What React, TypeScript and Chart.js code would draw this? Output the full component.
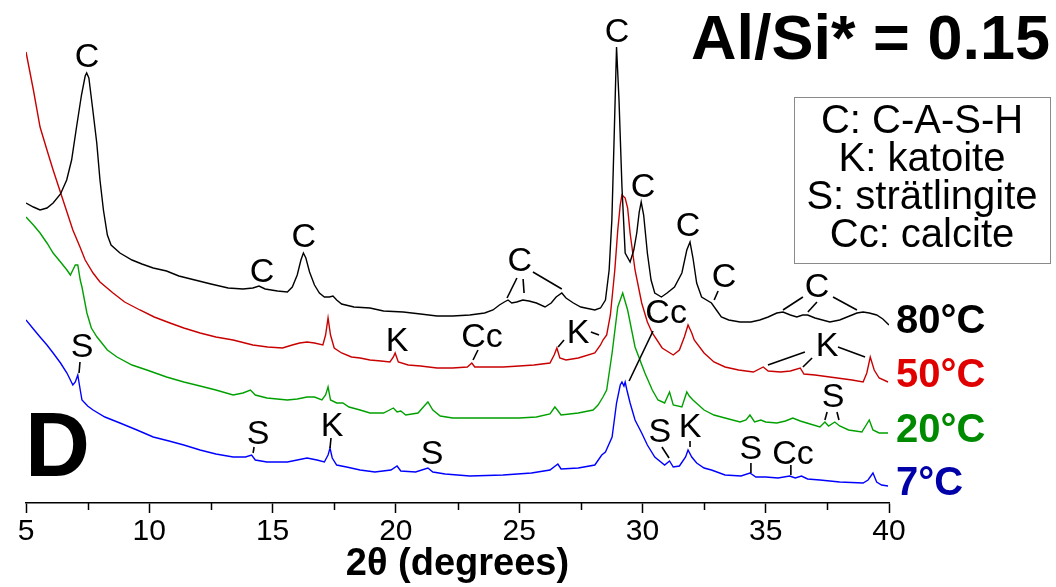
import React, { useEffect, useRef } from "react";
import { Chart, registerables } from "chart.js";

Chart.register(...registerables);

const FONT = '"Liberation Sans", Arial, sans-serif';

// 2θ (degrees) and intensity (a.u., stacked offsets included) for each curing temperature
const theta80 = [5.0, 5.3, 5.57, 5.85, 6.1, 6.4, 6.65, 6.85, 7.05, 7.25, 7.4, 7.46, 7.55, 7.7, 7.87, 8.0, 8.14, 8.3, 8.45, 8.81, 9.3, 9.7, 10.16, 10.7, 11.2, 11.85, 12.5, 13.2, 13.8, 14.2, 14.45, 14.7, 15.2, 15.6, 15.8, 16.0, 16.15, 16.25, 16.35, 16.5, 16.7, 16.9, 17.1, 17.3, 17.45, 17.6, 17.8, 18.3, 18.95, 19.5, 20.3, 21.0, 21.67, 22.3, 23.0, 23.6, 23.94, 24.2, 24.4, 24.55, 24.7, 24.9, 25.15, 25.4, 25.7, 26.05, 26.3, 26.5, 26.73, 26.9, 27.2, 27.5, 28.07, 28.3, 28.5, 28.65, 28.76, 28.85, 28.95, 29.05, 29.17, 29.3, 29.5, 29.65, 29.77, 29.87, 29.95, 30.05, 30.2, 30.35, 30.5, 30.77, 31.0, 31.3, 31.6, 31.8, 31.93, 32.05, 32.2, 32.4, 32.8, 33.0, 33.2, 33.5, 33.96, 34.4, 34.76, 35.1, 35.45, 35.7, 36.0, 36.26, 36.5, 36.7, 37.0, 37.6, 38.0, 38.3, 38.7, 38.95, 39.2, 39.5, 39.75, 40.0];
const int80 = [300, 296, 293, 295, 300, 309, 323, 343, 376, 408, 427, 430, 425, 395, 360, 323, 293, 268, 258, 250, 243, 239, 235, 232, 227, 223, 219, 215, 214, 215, 217, 214, 212, 211, 216, 228, 243, 250, 245, 231, 218, 210, 206, 206, 207, 203, 199, 196, 195, 192, 191, 189, 187, 187, 188, 190, 193, 198, 201, 203, 200, 201, 203, 202, 200, 196, 200, 206, 210, 205, 200, 196, 193, 195, 203, 233, 283, 363, 456, 403, 316, 250, 241, 253, 270, 291, 301, 288, 250, 223, 210, 206, 210, 216, 230, 253, 261, 245, 220, 206, 200, 193, 186, 183, 181, 181, 183, 186, 190, 191, 188, 186, 188, 188, 185, 181, 183, 186, 190, 191, 190, 188, 184, 178];

const theta50 = [5.0, 5.3, 5.57, 5.85, 6.1, 6.5, 6.9, 7.19, 7.4, 7.72, 8.0, 8.53, 9.0, 9.62, 10.2, 10.84, 11.4, 12.06, 12.7, 13.4, 14.2, 14.8, 15.4, 15.8, 16.1, 16.4, 16.7, 17.04, 17.15, 17.25, 17.35, 17.5, 17.8, 18.2, 18.55, 18.95, 19.4, 19.76, 19.9, 19.97, 20.1, 20.5, 21.0, 21.67, 22.3, 22.9, 23.08, 23.2, 23.7, 24.35, 25.0, 25.6, 26.25, 26.42, 26.53, 26.65, 26.9, 27.4, 28.07, 28.3, 28.4, 28.55, 28.7, 28.88, 29.0, 29.1, 29.17, 29.3, 29.4, 29.5, 29.7, 29.97, 30.2, 30.4, 30.8, 31.25, 31.5, 31.7, 31.85, 32.0, 32.1, 32.5, 32.9, 33.35, 33.9, 34.5, 34.9, 35.1, 35.6, 36.0, 36.4, 36.55, 37.0, 37.9, 38.5, 38.95, 39.1, 39.24, 39.4, 39.6, 39.96];
const int50 = [451, 413, 376, 353, 333, 303, 273, 256, 243, 230, 221, 210, 201, 193, 186, 180, 175, 170, 166, 163, 158, 156, 155, 158, 160, 161, 160, 158, 168, 185, 168, 155, 150, 146, 145, 143, 142, 141, 146, 150, 141, 138, 137, 135, 135, 136, 140, 136, 136, 136, 137, 138, 140, 148, 155, 145, 143, 145, 150, 158, 163, 168, 188, 233, 273, 298, 308, 305, 295, 270, 233, 200, 181, 170, 155, 148, 153, 166, 178, 170, 163, 150, 141, 136, 133, 131, 136, 132, 131, 132, 135, 129, 128, 125, 123, 121, 130, 146, 133, 125, 121];

const theta20 = [5.0, 5.3, 5.57, 5.85, 6.1, 6.4, 6.66, 6.8, 6.9, 7.0, 7.1, 7.2, 7.27, 7.47, 7.65, 7.88, 8.3, 8.69, 9.3, 9.9, 10.7, 11.4, 12.06, 12.7, 13.4, 13.8, 14.1, 14.3, 14.77, 15.6, 16.0, 16.4, 16.7, 17.0, 17.15, 17.25, 17.35, 17.6, 17.85, 18.1, 18.55, 18.95, 19.5, 19.9, 20.05, 20.2, 20.4, 20.9, 21.15, 21.3, 21.5, 21.8, 22.3, 23.0, 24.35, 25.0, 25.7, 26.25, 26.45, 26.55, 26.7, 27.4, 28.0, 28.2, 28.4, 28.55, 28.77, 29.0, 29.2, 29.4, 29.7, 30.1, 30.4, 30.63, 30.9, 31.1, 31.25, 31.6, 31.8, 31.9, 32.05, 32.5, 32.9, 33.35, 33.96, 34.2, 34.36, 34.55, 34.8, 35.0, 35.45, 35.8, 36.1, 36.4, 36.8, 37.2, 37.4, 37.55, 37.8, 38.0, 38.36, 38.9, 39.2, 39.35, 39.6, 39.96];
const int20 = [286, 278, 270, 260, 250, 241, 233, 228, 233, 238, 238, 223, 216, 190, 175, 166, 153, 146, 138, 133, 126, 121, 117, 113, 108, 110, 113, 108, 105, 103, 104, 106, 106, 103, 108, 116, 103, 100, 100, 96, 93, 90, 90, 95, 91, 92, 88, 90, 97, 101, 93, 87, 85, 85, 85, 85, 86, 89, 96, 93, 88, 90, 93, 98, 106, 113, 150, 196, 210, 193, 156, 130, 113, 103, 100, 111, 98, 96, 111, 107, 103, 93, 88, 85, 81, 83, 88, 81, 83, 81, 80, 82, 85, 82, 79, 76, 81, 77, 81, 77, 73, 71, 83, 73, 70, 70];

const theta7 = [5.0, 5.3, 5.57, 5.85, 6.1, 6.4, 6.66, 6.9, 7.0, 7.1, 7.2, 7.27, 7.5, 7.72, 8.2, 8.81, 9.5, 10.16, 10.8, 11.4, 12.06, 12.7, 13.4, 13.9, 14.15, 14.3, 14.77, 15.6, 16.0, 16.4, 16.8, 17.1, 17.25, 17.33, 17.42, 17.6, 18.0, 18.55, 19.15, 19.8, 20.05, 20.2, 20.8, 21.3, 21.5, 22.0, 23.0, 24.35, 25.5, 26.25, 26.57, 26.7, 27.4, 28.07, 28.35, 28.5, 28.77, 28.95, 29.1, 29.17, 29.25, 29.3, 29.37, 29.5, 29.7, 29.97, 30.2, 30.5, 30.9, 31.1, 31.25, 31.5, 31.75, 31.85, 32.0, 32.2, 32.5, 32.8, 33.35, 34.0, 34.36, 34.6, 35.0, 35.5, 35.97, 36.2, 36.45, 36.7, 37.2, 38.0, 38.95, 39.15, 39.35, 39.5, 39.7, 39.96];
const int7 = [183, 174, 166, 158, 150, 140, 130, 118, 121, 128, 113, 103, 97, 93, 86, 80, 73, 66, 62, 58, 53, 49, 46, 46, 48, 43, 41, 41, 43, 45, 43, 41, 48, 55, 45, 38, 36, 33, 31, 33, 37, 32, 31, 35, 31, 29, 27, 28, 30, 33, 39, 34, 35, 38, 48, 51, 66, 100, 118, 121, 117, 121, 113, 100, 83, 70, 58, 46, 38, 42, 36, 37, 46, 53, 46, 40, 35, 33, 28, 27, 30, 26, 26, 25, 27, 25, 27, 24, 23, 21, 20, 23, 30, 21, 18, 17];

const seriesNames = ["80°C", "50°C", "20°C", "7°C"];
const lineColors = ["#000000", "#c80000", "#00a000", "#0000ff"];
const labelColors = ["#000000", "#e00000", "#008a00", "#0000a8"];
// where the temperature labels sit (2θ, intensity)
const nameTheta = [40.28, 40.28, 40.28, 40.28];
const nameInt = [181, 127, 72, 19];

const majorTicks = [5, 10, 15, 20, 25, 30, 35, 40];
const minorTicks = [7.5, 12.5, 17.5, 22.5, 27.5, 32.5, 37.5];

const legendLines = ["C: C-A-S-H", "K: katoite", "S: strätlingite", "Cc: calcite"];
const chartTitle = "Al/Si* = 0.15";
const panelLetter = "D";

// phase labels: text, anchor (2θ, intensity), leader lines [θ1, I1, θ2, I2]
const phaseLabels: { t: string; x: number; y: number; l: number[][] }[] = [
  { t: "C", x: 7.47, y: 445, l: [] },
  { t: "C", x: 14.57, y: 230, l: [] },
  { t: "C", x: 16.27, y: 265, l: [] },
  { t: "C", x: 25.03, y: 241, l: [[24.91, 225, 24.51, 205], [25.16, 224, 25.2, 210], [25.56, 231, 26.73, 214]] },
  { t: "C", x: 28.97, y: 470, l: [] },
  { t: "C", x: 30.02, y: 315, l: [] },
  { t: "C", x: 31.85, y: 276, l: [] },
  { t: "C", x: 33.31, y: 225, l: [[33.07, 212, 32.91, 203]] },
  { t: "C", x: 37.08, y: 215, l: [[36.51, 206, 35.7, 193], [37.08, 201, 36.71, 191], [37.73, 206, 38.7, 193]] },
  { t: "K", x: 20.05, y: 161, l: [] },
  { t: "Cc", x: 23.49, y: 165, l: [[23.33, 153, 23.13, 143]] },
  { t: "K", x: 27.39, y: 169, l: [[26.82, 163, 26.58, 156], [27.91, 171, 28.24, 168]] },
  { t: "Cc", x: 30.96, y: 189, l: [[30.43, 172, 29.46, 122]] },
  { t: "K", x: 37.49, y: 156, l: [[36.59, 151, 35.09, 138], [36.88, 145, 36.51, 136], [37.93, 156, 39.03, 146]] },
  { t: "S", x: 37.73, y: 105, l: [[37.49, 91, 37.4, 83], [37.89, 91, 37.97, 83]] },
  { t: "S", x: 7.27, y: 155, l: [[7.19, 141, 7.15, 130]] },
  { t: "S", x: 14.41, y: 68, l: [[14.25, 56, 14.21, 50]] },
  { t: "K", x: 17.41, y: 76, l: [[17.37, 65, 17.33, 55]] },
  { t: "S", x: 21.47, y: 48, l: [] },
  { t: "S", x: 30.71, y: 70, l: [[30.79, 56, 31.08, 45]] },
  { t: "K", x: 31.93, y: 75, l: [[31.93, 62, 31.93, 56]] },
  { t: "S", x: 34.4, y: 53, l: [[34.4, 40, 34.4, 30]] },
  { t: "Cc", x: 36.11, y: 48, l: [[36.02, 38, 36.02, 28]] },
];

const overlay = {
  id: "overlay",
  afterDraw(chart: any) {
    const { ctx, chartArea, scales } = chart;
    const xs = scales.x;
    const ys = scales.y;
    ctx.save();
    // minor ticks
    ctx.strokeStyle = "#000";
    ctx.lineWidth = 1.5;
    for (const v of minorTicks) {
      const px = Math.round(xs.getPixelForValue(v)) + 0.5;
      ctx.beginPath();
      ctx.moveTo(px, chartArea.bottom);
      ctx.lineTo(px, chartArea.bottom + 7);
      ctx.stroke();
    }
    // phase labels
    ctx.fillStyle = "#000";
    ctx.textAlign = "center";
    ctx.textBaseline = "middle";
    ctx.font = `34px ${FONT}`;
    ctx.lineWidth = 1.6;
    for (const a of phaseLabels) {
      ctx.fillText(a.t, xs.getPixelForValue(a.x), ys.getPixelForValue(a.y));
      for (const s of a.l) {
        ctx.beginPath();
        ctx.moveTo(xs.getPixelForValue(s[0]), ys.getPixelForValue(s[1]));
        ctx.lineTo(xs.getPixelForValue(s[2]), ys.getPixelForValue(s[3]));
        ctx.stroke();
      }
    }
    // series names
    ctx.textAlign = "left";
    ctx.font = `bold 40px ${FONT}`;
    seriesNames.forEach((n, i) => {
      ctx.fillStyle = labelColors[i];
      ctx.fillText(n, xs.getPixelForValue(nameTheta[i]), ys.getPixelForValue(nameInt[i]));
    });
    // title
    ctx.fillStyle = "#000";
    ctx.textAlign = "right";
    ctx.font = `bold 63px ${FONT}`;
    ctx.fillText(chartTitle, chart.width - 6, 42);
    // panel letter
    ctx.textAlign = "left";
    ctx.font = `bold 90px ${FONT}`;
    ctx.fillText(panelLetter, chartArea.left - 1, 451);
    // legend box
    const bx = 794, by = 97, bw = 256, bh = 166;
    ctx.strokeStyle = "#8a8a8a";
    ctx.lineWidth = 1;
    ctx.strokeRect(bx + 0.5, by + 0.5, bw, bh);
    ctx.fillStyle = "#000";
    ctx.textAlign = "center";
    ctx.font = `40px ${FONT}`;
    legendLines.forEach((t, i) => {
      ctx.fillText(t, bx + bw / 2, by + 25 + i * 38);
    });
    ctx.restore();
  },
};

export default function App() {
  const ref = useRef<HTMLCanvasElement | null>(null);
  useEffect(() => {
    if (!ref.current) return;
    const thetas = [theta80, theta50, theta20, theta7];
    const ints = [int80, int50, int20, int7];
    const chart = new Chart(ref.current, {
      type: "line",
      data: {
        datasets: seriesNames.map((n, i) => ({
          label: n,
          data: thetas[i].map((t, k) => ({ x: t, y: ints[i][k] })),
          borderColor: lineColors[i],
          borderWidth: 1.4,
          pointRadius: 0,
          tension: 0,
          fill: false,
        })),
      },
      options: {
        responsive: false,
        animation: false,
        layout: { padding: { left: 26, right: 167, top: 0, bottom: 0 } },
        plugins: { legend: { display: false }, tooltip: { enabled: false } },
        scales: {
          x: {
            type: "linear",
            min: 5,
            max: 40,
            afterBuildTicks: (s: any) => {
              s.ticks = majorTicks.map((v) => ({ value: v }));
            },
            afterFit: (s: any) => {
              s.height = 84;
            },
            ticks: {
              color: "#000",
              padding: 1,
              maxRotation: 0,
              font: { family: FONT, size: 30 },
            },
            grid: {
              drawOnChartArea: false,
              drawTicks: true,
              tickLength: 10,
              tickColor: "#000",
              tickWidth: 1.5,
            },
            border: { color: "#000", width: 1.5 },
            title: {
              display: true,
              text: "2θ (degrees)",
              color: "#000",
              font: { family: FONT, size: 38, weight: "bold", lineHeight: 1 },
              padding: { top: 0, bottom: 3 },
            },
          },
          y: { display: false, min: 0, max: 503 },
        },
      },
      plugins: [overlay],
    });
    return () => chart.destroy();
  }, []);
  return (
    <div style={{ position: "absolute", left: 0, top: 0, width: 1056, height: 587, background: "#fff" }}>
      <canvas ref={ref} width={1056} height={587} style={{ display: "block" }} />
    </div>
  );
}
